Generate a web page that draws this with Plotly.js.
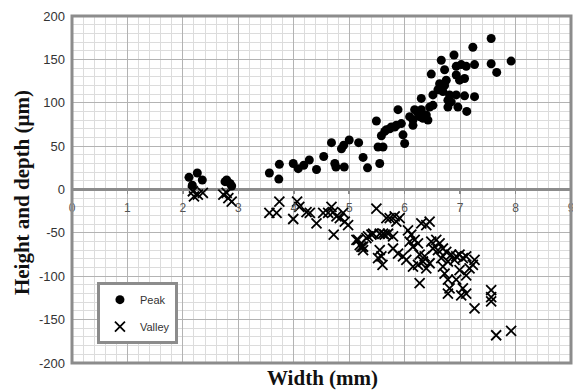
<!DOCTYPE html>
<html>
<head>
<meta charset="utf-8">
<script src="https://cdn.plot.ly/plotly-3.0.1.min.js"></script>
<style>html,body{margin:0;padding:0;background:#fff;}#chart{width:573px;height:392px;}</style>
</head>
<body>
<div id="chart"></div>
<script>
// Peak points (width mm, height µm)
const peakWidth = [2.11,2.26,2.35,2.17,2.79,2.85,2.88,2.76,3.56,3.74,3.73,3.99,4.08,4.18,4.28,4.41,4.54,4.68,4.86,4.90,5.00,5.17,4.74,4.76,4.91,5.25,5.33,5.49,5.52,5.61,5.58,5.67,5.76,5.85,5.94,5.97,6.00,5.88,6.09,6.15,6.24,6.30,6.18,6.33,6.42,6.45,6.51,6.30,6.48,6.51,6.60,6.66,6.72,6.75,6.72,6.78,6.84,6.78,6.81,6.89,6.93,6.93,6.99,7.08,7.02,6.93,7.08,6.96,7.12,7.26,7.23,7.26,7.11,7.56,7.56,7.66,7.92,6.63,6.69,5.55,6.15,6.27,6.39,5.64,5.82,5.73];
const peakHeight = [14,19,11,5,11,7,4,9,19,29,12,30,24,28,34,23,38,54,47,51,57,54,30,26,26,37,25,79,49,49,62,69,72,74,76,63,53,92,84,80,88,92,92,82,80,95,97,105,133,109,115,149,138,126,120,95,101,103,109,155,132,142,126,128,144,109,108,95,90,107,164,144,142,174,145,135,148,122,113,30,74,84,86,67,72,70];

// Valley points (width mm, depth µm)
const valleyWidth = [2.18,2.27,2.36,2.20,2.73,2.82,2.88,2.79,3.56,3.74,3.69,3.99,4.06,4.10,4.23,4.29,4.41,4.53,4.68,4.71,4.77,4.62,4.72,4.83,4.92,4.98,4.89,5.16,5.25,5.31,5.49,5.67,5.40,5.55,5.64,5.13,5.22,5.25,5.55,5.58,5.52,5.60,5.73,5.82,5.91,5.85,6.30,6.45,6.39,5.19,5.34,5.43,5.61,5.70,5.79,5.79,5.88,5.97,6.03,6.15,6.24,6.33,6.39,6.45,6.36,6.27,6.06,6.12,6.18,6.24,6.15,6.09,6.27,6.48,6.57,6.63,6.69,6.60,6.51,6.75,6.84,6.93,6.99,6.90,7.05,7.11,7.26,7.23,6.69,6.72,6.78,6.81,6.78,6.93,7.05,7.11,7.02,7.11,6.99,7.17,7.26,7.56,7.56,7.56,7.65,7.92,6.66,6.78];
const valleyDepth = [-2,-6,-4,-8,-6,-10,-14,-4,-27,-14,-27,-34,-14,-20,-26,-27,-39,-27,-20,-26,-31,-27,-52,-33,-37,-41,-27,-58,-66,-56,-22,-33,-52,-51,-52,-58,-66,-70,-70,-77,-79,-87,-33,-31,-33,-37,-39,-37,-41,-64,-54,-51,-51,-51,-54,-68,-74,-77,-81,-89,-87,-83,-91,-85,-77,-75,-47,-52,-58,-62,-66,-60,-108,-60,-58,-62,-68,-70,-68,-72,-75,-77,-75,-81,-79,-77,-81,-87,-89,-97,-104,-114,-120,-104,-114,-120,-122,-99,-93,-91,-137,-116,-124,-129,-168,-163,-79,-83];

const xTicks = [0,1,2,3,4,5,6,7,8,9];
const yTicks = [-200,-150,-100,-50,0,50,100,150,200];

const traces = [
  {x: peakWidth, y: peakHeight, type: 'scatter', mode: 'markers', name: 'Peak', legendgroup: 'a',
   marker: {symbol: 'circle', size: 9, color: '#000'}},
  {x: valleyWidth, y: valleyDepth, type: 'scatter', mode: 'markers', name: 'Valley', legendgroup: 'b',
   marker: {symbol: 'x-thin-open', size: 10, color: '#000', line: {color: '#111', width: 1.8}}}
];

const layout = {
  width: 573, height: 392,
  margin: {l: 72, r: 2, t: 16, b: 29},
  paper_bgcolor: '#fff', plot_bgcolor: '#fff',
  showlegend: true,
  legend: {x: 0.05, y: 0.233, xanchor: 'left', yanchor: 'top', bgcolor: '#fff',
           bordercolor: '#8c8c8c', borderwidth: 3, tracegroupgap: 8, itemwidth: 30,
           font: {family: 'Liberation Sans, Arial, sans-serif', size: 11, color: '#333'}},
  xaxis: {range: [0, 9], tickvals: xTicks, ticktext: xTicks.map(String), anchor: 'free', position: 0.5,
          showline: false, zeroline: false, ticks: 'outside', ticklen: 3, tickcolor: '#8c8c8c', tickwidth: 1.5,
          ticklabelstandoff: 4, ticklabeloverflow: 'allow',
          showgrid: true, gridcolor: '#b3b3b3', gridwidth: 1,
          minor: {dtick: 0.2, showgrid: true, gridcolor: '#dcdcdc', gridwidth: 1},
          tickfont: {family: 'Liberation Sans, Arial, sans-serif', size: 12, color: '#555'},
          fixedrange: true},
  yaxis: {range: [-200, 200], tickvals: yTicks, ticktext: yTicks.map(String),
          showline: false, zeroline: true, zerolinecolor: '#8c8c8c', zerolinewidth: 3,
          ticks: '', ticklabelstandoff: 6,
          showgrid: true, gridcolor: '#b3b3b3', gridwidth: 1,
          minor: {dtick: 10, showgrid: true, gridcolor: '#dcdcdc', gridwidth: 1},
          tickfont: {family: 'Liberation Sans, Arial, sans-serif', size: 13, color: '#333'},
          fixedrange: true},
  shapes: [{type: 'rect', xref: 'paper', yref: 'paper', x0: 0, x1: 1, y0: 0, y1: 1,
            line: {color: '#8c8c8c', width: 3}, layer: 'above'}],
  annotations: [
    {text: '<b>Height and depth (μm)</b>', xref: 'paper', yref: 'paper', x: -0.1, y: 0.49,
     xanchor: 'center', yanchor: 'middle', textangle: -90, showarrow: false,
     font: {family: 'Liberation Serif, Times New Roman, serif', size: 21, color: '#111'}},
    {text: '<b>Width (mm)</b>', xref: 'paper', yref: 'paper', x: 0.503, y: -0.043,
     xanchor: 'center', yanchor: 'middle', showarrow: false,
     font: {family: 'Liberation Serif, Times New Roman, serif', size: 21, color: '#111'}}
  ]
};

Plotly.newPlot('chart', traces, layout, {displayModeBar: false, staticPlot: true});
</script>
</body>
</html>
